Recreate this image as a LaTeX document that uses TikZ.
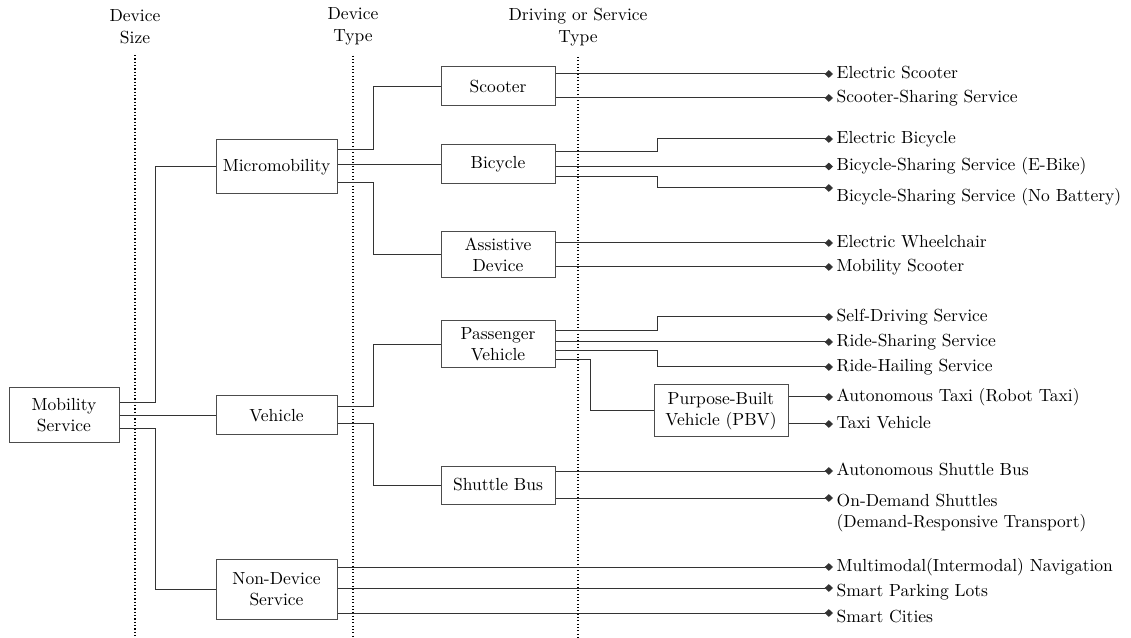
\documentclass[tikz,border=0pt]{standalone}
\usetikzlibrary{arrows.meta}
\tikzset{
  box/.style={draw=black!70, line width=0.6pt, align=center, inner sep=1pt},
  link/.style={draw=black!80, line width=0.6pt},
  tip/.style={-{Diamond[length=5pt,width=4.6pt]}},
  leaf/.style={anchor=west, inner sep=2pt, text height=1.5ex, text depth=0.25ex},
  head/.style={align=center, font=\fontsize{10.5}{13.2}\selectfont},
  guide/.style={draw=black, line width=0.7pt, dash pattern=on 0.7pt off 1.3pt}
}
\begin{document}
\begin{tikzpicture}[x=0.6pt, y=-0.6pt, every node/.append style={font=\fontsize{10.5}{12.6}\selectfont}]
  \useasboundingbox (0,0) rectangle (1131,638);

  % column heads
  \node[head] (hsize) at (135,27) {Device\\Size};
  \node[head] (htype) at (353,26) {Device\\Type};
  \node[head] (hserv) at (578,27) {Driving or Service\\Type};
  \draw[guide] ([yshift=-3pt]hsize.south) -- (hsize.south |- 0,638);
  \draw[guide] ([yshift=-3pt]htype.south) -- (htype.south |- 0,638);
  \draw[guide] ([yshift=-3pt]hserv.south) -- (hserv.south |- 0,638);

  % boxes
  \node[box, minimum width=66pt, minimum height=33pt] (ms) at (64,415.5) {Mobility\\Service};
  \node[box, minimum width=72.6pt, minimum height=32.4pt] (mic) at (276.5,167) {Micromobility};
  \node[box, minimum width=72.6pt, minimum height=23.4pt] (veh) at (276.5,415.5) {Vehicle};
  \node[box, minimum width=72.6pt, minimum height=36pt] (nds) at (276.5,589) {Non-Device\\Service};
  \node[box, minimum width=68.4pt, minimum height=23.4pt] (sco) at (498,86.5) {Scooter};
  \node[box, minimum width=68.4pt, minimum height=23.4pt] (bic) at (498,164.5) {Bicycle};
  \node[box, minimum width=68.4pt, minimum height=27.6pt] (ast) at (498,255) {Assistive\\Device};
  \node[box, minimum width=68.4pt, minimum height=28.2pt] (pas) at (498,344.5) {Passenger\\Vehicle};
  \node[box, minimum width=68.4pt, minimum height=22.8pt] (shu) at (498,485) {Shuttle Bus};
  \node[box, minimum width=80.4pt, minimum height=31.2pt] (pbv) at (721,411) {Purpose-Built\\Vehicle (PBV)};

  % end points
  \node[leaf] (l1) at (833,74) {Electric Scooter};
  \node[leaf] (l2) at (833,98) {Scooter-Sharing Service};
  \node[leaf] (l3) at (833,139) {Electric Bicycle};
  \node[leaf] (l4) at (833,166.5) {Bicycle-Sharing Service (E-Bike)};
  \coordinate (d5) at (833,188);
  \node[leaf] (l5) at (833,197) {Bicycle-Sharing Service (No Battery)};
  \node[leaf] (l6) at (833,243) {Electric Wheelchair};
  \node[leaf] (l7) at (833,267) {Mobility Scooter};
  \node[leaf] (l8) at (833,317) {Self-Driving Service};
  \node[leaf] (l9) at (833,342) {Ride-Sharing Service};
  \node[leaf] (l10) at (833,367) {Ride-Hailing Service};
  \node[leaf] (l11) at (833,397) {Autonomous Taxi (Robot Taxi)};
  \node[leaf] (l12) at (833,424) {Taxi Vehicle};
  \node[leaf] (l13) at (833,471) {Autonomous Shuttle Bus};
  \coordinate (d14) at (833,498);
  \node[anchor=west, inner sep=2pt, align=left] (l14) at (833,513.5) {On-Demand Shuttles\\(Demand-Responsive Transport)};
  \node[leaf] (l15) at (833,567) {Multimodal(Intermodal) Navigation};
  \coordinate (d16) at (833,588);
  \node[leaf] (l16) at (833,592) {Smart Parking Lots};
  \coordinate (d17) at (833,613);
  \node[leaf] (l17) at (833,618) {Smart Cities};

  % device size -> device type
  \draw[link] (ms.east |- 0,403) -- (155,403) |- (mic.west);
  \draw[link] (ms.east |- veh.west) -- (veh.west);
  \draw[link] (ms.east |- 0,429) -- (155,429) |- (nds.west);
  \draw[link] (mic.east |- 0,150) -- (373,150) |- (sco.west);
  \draw[link] (mic.east |- bic.west) -- (bic.west);
  \draw[link] (mic.east |- 0,183) -- (373,183) |- (ast.west);
  \draw[link] (veh.east |- 0,407) -- (373,407) |- (pas.west);
  \draw[link] (veh.east |- 0,424) -- (373,424) |- (shu.west);
  \draw[link] (pas.east |- 0,360) -- (590,360) |- (pbv.west);

  % service types
  \draw[link,tip] (sco.east |- l1.west) -- (l1.west);
  \draw[link,tip] (sco.east |- l2.west) -- (l2.west);
  \draw[link,tip] (bic.east |- 0,152) -- (657,152) |- (l3.west);
  \draw[link,tip] (bic.east |- l4.west) -- (l4.west);
  \draw[link,tip] (bic.east |- 0,177) -- (657,177) |- (d5);
  \draw[link,tip] (ast.east |- l6.west) -- (l6.west);
  \draw[link,tip] (ast.east |- l7.west) -- (l7.west);
  \draw[link,tip] (pas.east |- 0,331) -- (657,331) |- (l8.west);
  \draw[link,tip] (pas.east |- l9.west) -- (l9.west);
  \draw[link,tip] (pas.east |- 0,351) -- (657,351) |- (l10.west);
  \draw[link,tip] (pbv.east |- l11.west) -- (l11.west);
  \draw[link,tip] (pbv.east |- l12.west) -- (l12.west);
  \draw[link,tip] (shu.east |- l13.west) -- (l13.west);
  \draw[link,tip] (shu.east |- d14) -- (d14);
  \draw[link,tip] (nds.east |- l15.west) -- (l15.west);
  \draw[link,tip] (nds.east |- d16) -- (d16);
  \draw[link,tip] (nds.east |- d17) -- (d17);
\end{tikzpicture}
\end{document}
